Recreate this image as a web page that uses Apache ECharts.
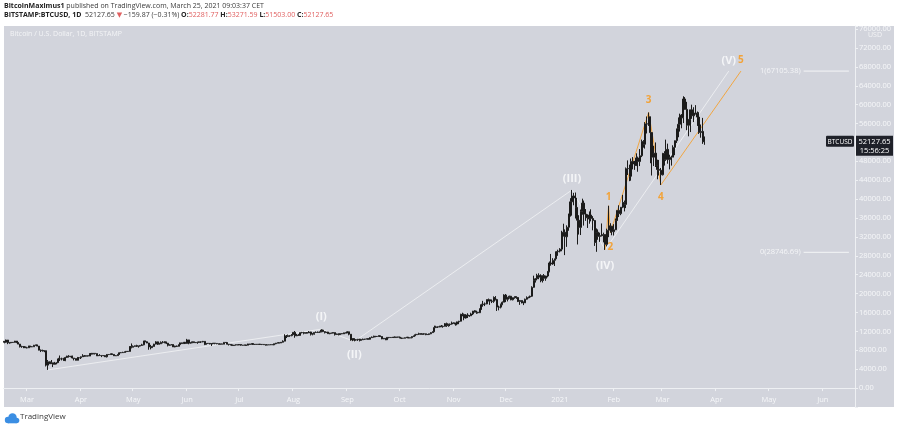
<!DOCTYPE html>
<html><head><meta charset="utf-8">
<script src="https://cdn.jsdelivr.net/npm/echarts@6/dist/echarts.min.js"></script>
<style>html,body{margin:0;padding:0;background:#fff;}#c{width:899px;height:430px;}</style>
</head><body><div id="c"></div>
<script>
// ---- DATA (BITSTAMP:BTCUSD daily, 2020-02-17 .. 2021-03-25) ----
const startDate = '2020-02-17';
const axisDays = 489;                 // category slots through mid June 2021
const monthLengths = [13,31,30,31,30,31,31,30,31,30,31,31,28,25];
const firstOpen = 9910;
const closes = [
 [9700,10180,9600,9600,9690,9670,9960,9660,9310,8780,8810,8700,8540],
 [8530,8910,8760,8750,9070,9150,8890,8030,7930,7900,7920,4860,5570,5170,5360,5030,5330,5400,6190,6200,6190,5830,6480,6770,6690,6760,6370,6250,5880,6400,6430],
 [6640,6810,6740,6870,6780,7330,7200,7370,7300,6860,6880,6910,6860,6840,6630,7120,7100,7260,7130,6840,6870,7130,7490,7510,7550,7700,7790,7760,8780,8640],
 [8830,8970,8900,8890,9030,9160,9990,9810,9540,8720,8560,8810,9310,9790,9320,9380,9680,9730,9780,9510,9060,9170,9180,8720,8900,8840,9200,9580,9420,9700,9450],
 [10200,9520,9660,9800,9620,9670,9750,9780,9780,9890,9270,9460,9470,9340,9430,9520,9460,9380,9300,9360,9290,9680,9630,9290,9250,9160,9010,9120,9190,9140],
 [9230,9090,9060,9130,9080,9350,9250,9430,9230,9290,9240,9300,9240,9250,9190,9130,9150,9170,9210,9160,9390,9530,9610,9550,9710,9930,11030,10910,11100,11110,11350],
 [11800,11070,11230,11190,11750,11770,11600,11760,11680,11880,11400,11580,11780,11770,11860,11910,12290,11960,11750,11870,11520,11680,11650,11750,11330,11470,11320,11540,11480,11710,11660],
 [11920,11400,10170,10470,10170,10250,10370,10130,10230,10350,10390,10440,10330,10680,10790,10950,10940,10930,11080,10920,10420,10530,10240,10740,10690,10730,10770,10700,10840,10780],
 [10620,10570,10550,10670,10790,10600,10670,10920,11060,11300,11380,11540,11420,11430,11500,11320,11360,11500,11750,11920,12820,12970,12930,13120,13030,13070,13650,13280,13460,13560,13800],
 [13760,13550,14020,14150,15590,15590,14840,15480,15330,15300,15700,16300,16330,16070,15960,16730,17660,17800,17820,18680,18710,18420,18370,19160,18730,17150,17140,17720,18180,19700],
 [18800,19220,19450,18700,19150,19360,19170,18330,18550,18260,18040,18810,19170,19270,19440,21330,22820,23140,23860,23480,22750,23820,23240,23730,24710,26490,26280,27040,27370,28880,28990],
 [29410,32200,33000,32030,34050,36860,39430,40670,40240,38240,35540,34010,37390,39160,36830,36050,35820,36630,35900,35470,30850,33010,32100,32290,32290,32510,30430,33420,34320,34270,33110],
 [33520,35510,37620,36930,38290,39260,38870,46450,46480,44840,48000,47440,47140,48720,47960,49190,52150,51610,55940,55890,57410,54090,48880,49740,47060,46280,46110,45160],
 [49630,48390,50540,48370,48750,48880,50970,52380,54890,55850,57790,57230,61200,59000,55640,56890,58910,57640,58230,58110,57370,54100,54340,52280,52127.65]
];
const highs = [
 [9960,10250,10200,9690,9760,9700,9990,9980,9680,9350,8960,8900,8800],
 [8750,8950,8930,8850,9140,9170,9180,8890,8170,8140,7980,7950,5950,5650,5950,5370,5550,5430,6400,6900,6440,6410,6620,6840,6970,6790,6870,6370,6260,6600,6520],
 [6690,7180,7000,6930,6880,7360,7460,7420,7370,7310,6950,7190,6910,6980,6930,7190,7150,7300,7260,7200,6940,7150,7570,7590,7690,7710,7800,7800,8900,9450],
 [9030,9000,9180,8950,9080,9380,9990,10050,9900,9570,9160,8970,9380,9930,9840,9590,9880,9950,9900,9820,9560,9270,9310,9300,8970,9010,9220,9620,9610,9740,9700],
 [10420,10230,9680,9880,9850,9720,9790,9800,9880,9990,9950,9540,9490,9480,9490,9570,9560,9480,9400,9400,9430,9710,9700,9670,9320,9280,9200,9130,9220,9200],
 [9300,9260,9130,9190,9140,9380,9360,9460,9440,9320,9300,9340,9340,9280,9270,9210,9180,9190,9240,9220,9420,9550,9640,9640,9730,10110,11400,11250,11340,11180,11460],
 [11860,12090,11480,11420,11790,11900,11910,11800,11800,12070,11940,11620,11800,12000,11980,11930,12470,12390,12020,11880,11890,11690,11710,11820,11760,11540,11590,11560,11580,11710,11760],
 [12050,11950,11440,10580,10540,10360,10400,10430,10350,10480,10400,10470,10580,10760,10930,11100,11040,11030,11170,11080,10980,10560,10540,10780,10780,10790,10800,10950,10860,10850],
 [10920,10660,10600,10690,10800,10800,10690,10950,11100,11490,11430,11720,11560,11550,11620,11540,11400,11520,11830,12020,13220,13190,13030,13170,13350,13250,13780,13860,13630,13660,14080],
 [13900,13830,14070,14240,15750,15960,15770,15650,15850,15470,15960,16340,16480,16330,16140,16880,17850,18470,18130,18800,18960,18760,18760,19420,19480,18900,17450,17880,18340,19860],
 [19920,19300,19570,19520,19170,19420,19420,19290,18650,18560,18280,18940,19420,19350,19570,21560,23800,23280,24200,24300,24100,23850,24150,23790,24780,26800,28400,27500,27400,28990,29300],
 [29620,33300,34800,33600,34450,36900,40200,41950,41350,41400,38250,36600,37800,40100,39700,37900,36800,37400,37850,36400,35600,33800,33600,32900,34850,32900,32550,33750,38600,34900,34350],
 [34700,35900,37650,38700,38300,40900,39700,46700,48200,47300,48600,48900,48100,49700,49000,50600,52600,52500,56300,57500,58350,57500,54200,51300,52000,48350,48300,46600],
 [49800,50150,52600,51750,49400,49200,51400,52400,54900,57300,58100,58000,61780,61600,60600,56900,58950,60000,59450,59900,58550,58400,55800,57200,53271.59]
];
const lows = [
 [9480,9600,9300,9400,9570,9580,9650,9520,9280,8600,8530,8450,8520],
 [8410,8500,8650,8680,8750,8990,8850,8000,7630,7740,7600,4580,3850,5090,5100,4450,4980,5030,5330,5730,5860,5760,5700,6390,6460,6530,6260,5860,5870,5860,6330],
 [6160,6610,6650,6680,6680,6770,7100,7150,7110,6770,6790,6800,6560,6790,6620,6480,7000,7060,7050,6800,6800,6850,7040,7400,7450,7500,7680,7660,7740,8410],
 [8630,8770,8710,8560,8790,8940,9060,9720,9520,8120,8200,8550,8780,9260,9140,9230,9330,9470,9480,9320,8820,8950,9090,8700,8640,8700,8820,9120,9330,9370,9400],
 [9420,9280,9400,9500,9580,9540,9380,9620,9560,9700,9100,9230,9350,9270,8920,9370,9280,9280,9220,9200,9270,9280,9580,9230,9010,9050,8950,8950,9020,9070],
 [9100,8980,9040,9040,8950,9060,9210,9240,9160,9130,9200,9180,9200,9110,9160,9010,9090,9120,9110,9130,9140,9280,9470,9480,9540,9660,9910,10600,10830,10850,10970],
 [11230,10660,11000,11060,11100,11580,11380,11530,11560,11660,11130,11170,11300,11690,11700,11690,11820,11850,11570,11670,11480,11400,11530,11600,11130,11260,11150,11290,11420,11450,11600],
 [11650,11180,10030,9930,9880,10030,9990,9880,10080,10200,10200,10330,10250,10270,10630,10690,10760,10820,10900,10810,10350,10370,10150,10200,10540,10640,10620,10660,10640,10680],
 [10550,10390,10500,10530,10610,10530,10570,10530,10830,11040,11280,11240,11310,11300,11280,11200,11250,11340,11410,11690,11890,12700,12730,12880,12900,12780,13050,12960,12990,13120,13440],
 [13630,13210,13300,13530,14100,15200,14360,14710,14830,15090,15280,15460,15980,15720,15800,15880,16560,17230,17360,17750,18340,17620,18000,18050,18570,16330,16460,16870,17550,18180],
 [18200,18350,18930,18590,18560,18920,18900,18210,17620,17920,17570,18020,18720,19000,19050,19300,21230,22340,22800,23050,22400,22350,22700,22720,23450,24500,25900,26100,25850,27320,28000],
 [28720,28970,32100,28150,29900,33300,36300,36500,38700,35900,30400,32500,32400,36700,34400,35400,33900,34800,35300,33400,30100,28850,31400,30950,32100,30850,29250,30000,31950,32900,32350],
 [32300,33450,35400,36200,36600,38100,37400,38100,45100,43800,43900,46300,46200,47000,45800,47000,48900,50900,50700,53900,55500,47600,45000,47000,46800,44200,45000,43000],
 [45000,47100,48100,47500,46300,47100,48900,49300,51900,53100,54300,55000,56100,58950,54600,53300,54200,57000,56300,57900,55500,53800,53000,51700,51503]
];
// Elliott wave annotations [date, price, label]
const waveMajor = [['2020-03-13',3850,''],['2020-08-17',12470,'(I)'],['2020-09-05',9880,'(II)'],['2021-01-08',41950,'(III)'],['2021-01-27',29250,'(IV)'],['2021-04-08',67105.38,'(V)']];
const waveMinor = [['2021-01-27',29250,''],['2021-01-29',38600,'1'],['2021-01-30',32900,'2'],['2021-02-21',58350,'3'],['2021-02-28',43000,'4'],['2021-04-15',67105.38,'5']];
const fibLevels = [[67105.38,'1(67105.38)'],[28746.69,'0(28746.69)']];
const fibSpan = ['2021-05-21','2021-06-16'];
const monthNames = ['Jan','Feb','Mar','Apr','May','Jun','Jul','Aug','Sep','Oct','Nov','Dec'];
const yTickStep = 4000;

// ---- build ----
closes.forEach((m,i)=>{ if(m.length!==monthLengths[i]||highs[i].length!==monthLengths[i]||lows[i].length!==monthLengths[i]) throw new Error('month '+i+' len '+m.length+'/'+highs[i].length+'/'+lows[i].length+' expected '+monthLengths[i]); });
const C = closes.flat(), H = highs.flat(), L = lows.flat();
const dates = [];
const t0 = Date.parse(startDate+'T00:00:00Z');
for (let i=0;i<axisDays;i++) dates.push(new Date(t0+i*86400000).toISOString().slice(0,10));
const candles = C.map((c,i)=>{ const o = i===0?firstOpen:C[i-1]; return [o, c, Math.min(L[i],o,c), Math.max(H[i],o,c)]; });

const FONT = '"Open Sans", "DejaVu Sans", sans-serif';
const isMonthStart = (i,v)=> v.slice(8)==='01';

function waveSeries(pts, color, fs, dists, positions, op){
  return {
    type:'line', z:1, silent:true, symbol:'circle', symbolSize:0, showSymbol:true,
    lineStyle:{color:color, width:1, opacity:op},
    itemStyle:{color:color},
    data: pts.map((p,k)=>({value:[p[0],p[1]], label:{show:!!p[2], formatter:p[2], position:positions[k], distance:dists[k], color:color, fontSize:fs, fontFamily:FONT, fontWeight:'bold'}})),
    animation:false
  };
}

const chart = echarts.init(document.getElementById('c'), null, {renderer:'canvas'});
const option = {
  animation:false,
  backgroundColor:'#ffffff',
  grid:{left:3.5, right:44, top:26, bottom:23},
  xAxis:{type:'category', data:dates, boundaryGap:true, offset:-15,
    axisLine:{lineStyle:{color:'#eef0f3', width:1}},
    axisTick:{show:true, interval:isMonthStart, length:3, lineStyle:{color:'#eef0f3'}},
    axisLabel:{interval:isMonthStart, margin:4, fontSize:7.5, color:'#f6f7f9', fontFamily:FONT,
      formatter:v=>{const m=+v.slice(5,7); return m===1? v.slice(0,4) : monthNames[m-1];}},
    splitLine:{show:false}},
  yAxis:{type:'value', position:'right', min:-4000, max:76650, interval:yTickStep, scale:false,
    axisLine:{show:true, lineStyle:{color:'#eef0f3'}},
    axisTick:{show:true, length:3, lineStyle:{color:'#eef0f3'}},
    axisLabel:{margin:4, fontSize:7.5, color:'#f6f7f9', fontFamily:FONT,
      formatter:v=> (v<0||v>76000)?'':v.toFixed(2)},
    splitLine:{show:false}},
  series:[
    waveSeries(waveMajor,'#f4f5f7',11,[0,7,8,6,10,5],['top','top','bottom','top','bottom','top'],0.75),
    waveSeries(waveMinor,'#f2a33a',10,[0,4,9,7,7,6],['top','top','bottom','top','bottom','top'],0.95),
    ...fibLevels.map(f=>({type:'line', z:1, silent:true, symbolSize:0, showSymbol:true,
      lineStyle:{color:'#f4f5f7', width:1}, itemStyle:{color:'#f4f5f7'},
      data:[{value:[fibSpan[0],f[0]], label:{show:true, formatter:f[1], position:'left', distance:3, color:'#f4f5f7', fontSize:7.5, fontFamily:FONT}},
            {value:[fibSpan[1],f[0]]}]})),
    {type:'candlestick', z:3, data:candles, barWidth:1.5,
      itemStyle:{color:'#8f929a', color0:'#1b1b1b', borderColor:'#1b1b1b', borderColor0:'#1b1b1b', borderWidth:1}}
  ],
  graphic:[]
};
chart.setOption(option);

const lastClose = C[C.length-1];
const py = chart.convertToPixel({yAxisIndex:0}, lastClose);
chart.setOption({graphic:[
  {type:'rect', z:-100, silent:true, shape:{x:4, y:26, width:890, height:381}, style:{fill:'#d2d4dc'}},
  {type:'text', z:10, left:4, top:2, style:{text:'{b|BitcoinMaximus1} published on TradingView.com, March 25, 2021 09:03:37 CET', fill:'#3b3b3b', fontSize:7, fontFamily:FONT,
     rich:{b:{fontWeight:'bold', fill:'#222', fontSize:7, fontFamily:FONT}}}},
  {type:'text', z:10, left:4, top:11, style:{text:'{b|BITSTAMP:BTCUSD, 1D}  52127.65 {r|▼} −159.87 (−0.31%) {b|O:}{r|52281.77} {b|H:}{r|53271.59} {b|L:}{r|51503.00} {b|C:}{r|52127.65}', fill:'#3b3b3b', fontSize:7, fontFamily:FONT,
     rich:{b:{fontWeight:'bold', fill:'#222', fontSize:7, fontFamily:FONT}, r:{fill:'#e06060', fontSize:7, fontFamily:FONT}}}},
  {type:'text', z:10, left:10, top:30, style:{text:'Bitcoin / U.S. Dollar, 1D, BITSTAMP', fill:'#f3f4f6', fontSize:7, fontFamily:FONT}},
  {type:'text', z:10, left:868, top:31, style:{text:'USD', fill:'#f3f4f6', fontSize:7, fontFamily:FONT}},
  // price labels
  {type:'rect', z:10, shape:{x:826, y:py-6, width:28, height:11, r:1}, style:{fill:'#1f2129'}},
  {type:'text', z:11, x:840, y:py, style:{text:'BTCUSD', fill:'#ffffff', fontSize:6.5, fontFamily:FONT, align:'center', verticalAlign:'middle'}},
  {type:'rect', z:10, shape:{x:856, y:py-6, width:37, height:20}, style:{fill:'#1f2129'}},
  {type:'text', z:11, x:874.5, y:py, style:{text:'52127.65', fill:'#ffffff', fontSize:7.5, fontFamily:FONT, align:'center', verticalAlign:'middle'}},
  {type:'text', z:11, x:874.5, y:py+9, style:{text:'15:56:25', fill:'#ffffff', fontSize:7.5, fontFamily:FONT, align:'center', verticalAlign:'middle'}},
  // footer logo
  {type:'circle', z:10, shape:{cx:8, cy:420, r:3.2}, style:{fill:'#3b8ee3'}},
  {type:'circle', z:10, shape:{cx:12.5, cy:417.5, r:4.2}, style:{fill:'#3b8ee3'}},
  {type:'circle', z:10, shape:{cx:16.5, cy:420.5, r:2.8}, style:{fill:'#3b8ee3'}},
  {type:'rect', z:10, shape:{x:8, y:419, width:8.5, height:4.3}, style:{fill:'#3b8ee3'}},
  {type:'text', z:10, left:20, top:413, style:{text:'TradingView', fill:'#3a3a3a', fontSize:8, fontFamily:FONT}}
]});
</script></body></html>
